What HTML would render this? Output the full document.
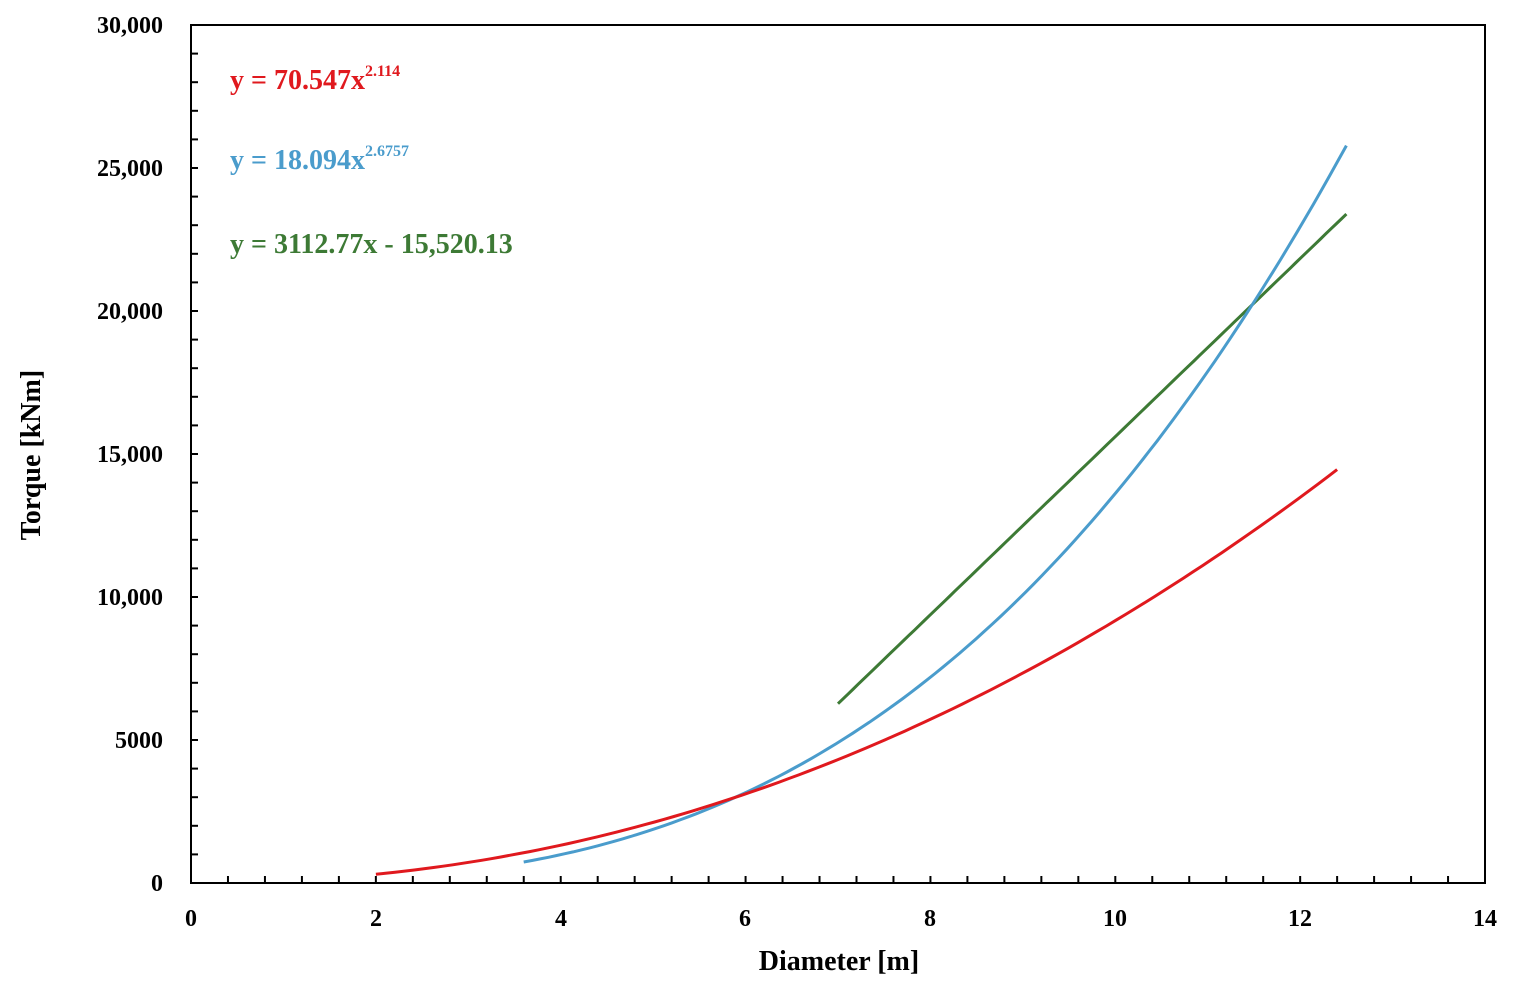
<!DOCTYPE html>
<html><head><meta charset="utf-8"><style>
html,body{margin:0;padding:0;background:#fff;}
svg{display:block;font-family:"Liberation Serif",serif;font-weight:bold;}
</style></head><body>
<svg id="s" width="1519" height="993" viewBox="0 0 1519 993" xmlns="http://www.w3.org/2000/svg">
<rect x="191" y="25" width="1294" height="858" fill="#fff" stroke="#000" stroke-width="2"/>
<g id="ticks" stroke="#000" stroke-width="2"></g>
<g font-size="24" text-anchor="end" fill="#000">
<text x="163" y="33">30,000</text>
<text x="163" y="176">25,000</text>
<text x="163" y="319">20,000</text>
<text x="163" y="462">15,000</text>
<text x="163" y="605">10,000</text>
<text x="163" y="748">5000</text>
<text x="163" y="891">0</text>
</g>
<g font-size="24" text-anchor="middle" fill="#000">
<text x="191" y="926">0</text>
<text x="376" y="926">2</text>
<text x="561" y="926">4</text>
<text x="745" y="926">6</text>
<text x="930" y="926">8</text>
<text x="1115" y="926">10</text>
<text x="1300" y="926">12</text>
<text x="1485" y="926">14</text>
</g>
<text x="839" y="970" font-size="28" text-anchor="middle">Diameter [m]</text>
<text transform="translate(40,455) rotate(-90)" font-size="28" text-anchor="middle">Torque [kNm]</text>
<text x="230" y="89" font-size="28" fill="#e0191e">y = 70.547x<tspan font-size="16" dy="-13">2.114</tspan></text>
<text x="230" y="169" font-size="28" fill="#4a9ccc">y = 18.094x<tspan font-size="16" dy="-13">2.6757</tspan></text>
<text x="230" y="253" font-size="28" fill="#3d7a35">y = 3112.77x - 15,520.13</text>
<path id="g" fill="none" stroke="#3d7a35" stroke-width="3"/>
<path id="b" fill="none" stroke="#4a9ccc" stroke-width="3"/>
<path id="r" fill="none" stroke="#e0191e" stroke-width="3"/>
</svg>
<script>
var X=function(x){return 191+x*92.43},Y=function(y){return 883-y*0.0286};
function p(f,a,b){var d="";for(var i=0;i<=100;i++){var x=a+(b-a)*i/100;d+=(i?"L":"M")+X(x).toFixed(1)+","+Y(f(x)).toFixed(1);}return d;}
document.getElementById("r").setAttribute("d",p(function(x){return 70.547*Math.pow(x,2.114)},2,12.4));
document.getElementById("b").setAttribute("d",p(function(x){return 18.8*Math.pow(x,2.86)},3.6,12.5));
document.getElementById("g").setAttribute("d",p(function(x){return 3112.77*x-15520.13},7,12.5));
var t="";
for(var i=1;i<35;i++){var x=191+i*0.4*92.43;t+='<line x1="'+x+'" y1="883" x2="'+x+'" y2="876"/>';}
for(var j=1;j<30;j++){var y=883-j*28.6;t+='<line x1="191" y1="'+y+'" x2="198" y2="'+y+'"/>';}
document.getElementById("ticks").innerHTML=t;
</script>
</body></html>
